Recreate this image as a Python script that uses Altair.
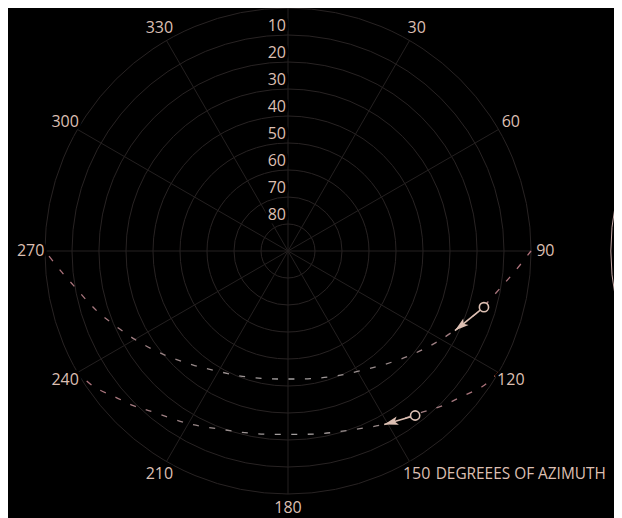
import altair as alt
import pandas as pd

# ---------------- data ----------------
ring_alt = [0, 10, 20, 30, 40, 50, 60, 70, 80]
alt_labels = [10, 20, 30, 40, 50, 60, 70, 80]
spoke_az = [0, 30, 60, 90, 120, 150, 180, 210, 240, 270, 300, 330]
az_labels = [30, 60, 90, 120, 150, 180, 210, 240, 270, 300, 330]
axis_title = ["DEGREEES OF AZIMUTH"]

# upper sun path (azimuth, altitude in degrees)
path1_az = [90, 95, 100, 105, 110, 120, 130, 140, 150, 160, 170, 180,
            190, 200, 210, 220, 230, 240, 250, 255, 260, 265, 270]
path1_alt = [0, 5.5, 10.3, 14.1, 17.8, 24.5, 30.2, 35.0, 38.5, 40.6, 42.0, 42.6,
             42.0, 40.6, 38.5, 35.0, 30.2, 24.5, 17.8, 14.1, 10.3, 5.5, 0]

# lower sun path
path2_az = [120, 125, 130, 135, 140, 150, 160, 170, 180,
            190, 200, 210, 220, 225, 230, 235, 240]
path2_alt = [0, 2.3, 6.1, 9.0, 12.2, 16.2, 19.6, 21.3, 22.1,
             21.3, 19.6, 16.2, 12.2, 9.0, 6.1, 2.3, 0]

# sun markers and the arrow tips showing direction of travel
sun_az = [106, 142.3]
sun_alt = [14.5, 13.0]
tip_az = [115.5, 151]
tip_alt = [21.5, 16.5]

# neighbouring diagram's horizon circle (centre offset in zenith-degrees)
neighbor_cx = [209.6]

# ---------------- styling ----------------
BG = "black"
GRID = "#282323"
SPOKE = "#242020"
FG = "#dcbfb2"
RING2 = "#c8aaa8"
FONT = "Open Sans"
FS = 16

W, H = 569, 486
xs = alt.Scale(domain=[-90, 120.74], nice=False, zero=False)
ys = alt.Scale(domain=[-90, 90], nice=False, zero=False)
rs = alt.Scale(type="linear", domain=[0, 90], range=[0, 243], zero=True)

polar = dict(
    rr="90 - datum.alt",
    px="datum.rr * sin(datum.az * PI / 180)",
    py="datum.rr * cos(datum.az * PI / 180)",
)

X = lambda f: alt.X(f, scale=xs, axis=None)
Y = lambda f: alt.Y(f, scale=ys, axis=None)

# rings
rings = alt.Chart(pd.DataFrame({"alt": ring_alt})).transform_calculate(
    cx="0", cy="0", r="90 - datum.alt"
).mark_arc(theta=0, theta2=6.2832, fillOpacity=0, stroke=GRID, strokeWidth=1).encode(
    x=X("cx:Q"), y=Y("cy:Q"), radius=alt.Radius("r:Q", scale=rs, stack=False)
)

neighbor = alt.Chart(pd.DataFrame({"cx": neighbor_cx})).transform_calculate(
    cy="0", r="90"
).mark_arc(theta=0, theta2=6.2832, fillOpacity=0, stroke=RING2, strokeWidth=1, clip=True).encode(
    x=X("cx:Q"), y=Y("cy:Q"), radius=alt.Radius("r:Q", scale=rs, stack=False)
)

# spokes
spokes = alt.Chart(pd.DataFrame({"az": spoke_az})).transform_calculate(
    x0="0", y0="0",
    x1="90 * sin(datum.az * PI / 180)",
    y1="90 * cos(datum.az * PI / 180)",
).mark_rule(stroke=SPOKE, strokeWidth=1).encode(
    x=X("x0:Q"), y=Y("y0:Q"), x2="x1:Q", y2="y1:Q"
)

grad = alt.LinearGradient(
    gradient="linear",
    stops=[
        alt.GradientStop(offset=0, color="#b0707a"),
        alt.GradientStop(offset=0.3, color="#968888"),
        alt.GradientStop(offset=0.5, color="#a4a0a0"),
        alt.GradientStop(offset=0.7, color="#968888"),
        alt.GradientStop(offset=1, color="#b0707a"),
    ],
    x1=0, x2=1, y1=0, y2=0,
)


def path_layer(az, av):
    df = pd.DataFrame({"i": list(range(len(az))), "az": az, "alt": av})
    return alt.Chart(df).transform_calculate(**polar).mark_line(
        interpolate="cardinal", strokeDash=[6, 10.5], strokeWidth=1.3, stroke=grad
    ).encode(x=X("px:Q"), y=Y("py:Q"), order="i:Q")


path1 = path_layer(path1_az, path1_alt)
path2 = path_layer(path2_az, path2_alt)

sun_df = pd.DataFrame({"az": sun_az, "alt": sun_alt, "taz": tip_az, "talt": tip_alt})
sun_base = alt.Chart(sun_df).transform_calculate(
    **polar,
    tr="90 - datum.talt",
    tx="datum.tr * sin(datum.taz * PI / 180)",
    ty="datum.tr * cos(datum.taz * PI / 180)",
).transform_calculate(
    ang="(atan2(datum.tx - datum.px, datum.ty - datum.py) * 180 / PI + 360) % 360"
)

arrow_line = sun_base.mark_rule(stroke=FG, strokeWidth=1.6).encode(
    x=X("px:Q"), y=Y("py:Q"), x2="tx:Q", y2="ty:Q"
)
arrow_head = sun_base.mark_point(
    shape="M0,0L0.6,2L0,1.55L-0.6,2Z", size=200, filled=True, fill=FG,
    strokeWidth=0, opacity=1
).encode(x=X("tx:Q"), y=Y("ty:Q"), angle=alt.Angle("ang:Q", scale=None))
sun_dot = sun_base.mark_point(
    shape="circle", size=85, filled=True, fill=BG, stroke=FG, strokeWidth=1.6, opacity=1
).encode(x=X("px:Q"), y=Y("py:Q"))

# azimuth labels
az_df = pd.DataFrame({"az": az_labels, "label": [str(a) for a in az_labels]})
az_base = alt.Chart(az_df).transform_calculate(
    lx="95.3 * sin(datum.az * PI / 180)",
    ly="95.3 * cos(datum.az * PI / 180)",
)
az_halo = az_base.mark_text(
    font=FONT, fontSize=FS, align="center", baseline="middle",
    fill=BG, stroke=BG, strokeWidth=6
).encode(x=X("lx:Q"), y=Y("ly:Q"), text="label:N")
az_text = az_base.mark_text(
    font=FONT, fontSize=FS, align="center", baseline="middle", fill=FG
).encode(x=X("lx:Q"), y=Y("ly:Q"), text="label:N")

title_df = pd.DataFrame({"az": [150], "label": axis_title})
title_text = alt.Chart(title_df).transform_calculate(
    lx="95.3 * sin(datum.az * PI / 180)",
    ly="95.3 * cos(datum.az * PI / 180)",
).mark_text(
    font=FONT, fontSize=15.4, align="left", baseline="middle", fill=FG, dx=19
).encode(x=X("lx:Q"), y=Y("ly:Q"), text="label:N")

# altitude labels along the north spoke
al_df = pd.DataFrame({"alt": alt_labels, "label": [str(a) for a in alt_labels]})
al_base = alt.Chart(al_df).transform_calculate(lx="0", ly="90 - datum.alt")
al_halo = al_base.mark_text(
    font=FONT, fontSize=FS, align="right", baseline="alphabetic", dx=-2, dy=-4,
    fill=BG, stroke=BG, strokeWidth=7
).encode(x=X("lx:Q"), y=Y("ly:Q"), text="label:N")
al_text = al_base.mark_text(
    font=FONT, fontSize=FS, align="right", baseline="alphabetic", dx=-2, dy=-4,
    fill=FG
).encode(x=X("lx:Q"), y=Y("ly:Q"), text="label:N")

chart = alt.layer(
    rings, spokes, neighbor, al_halo, al_text, path1, path2,
    arrow_line, arrow_head, sun_dot, az_halo, az_text, title_text
).properties(
    width=W, height=H,
    padding={"left": 37, "top": 0, "right": 0, "bottom": 24},
    autosize=alt.AutoSizeParams(type="none"),
).configure(background=BG).configure_view(strokeWidth=0)

chart.save("out.html", embed_options={"renderer": "svg", "actions": False})
